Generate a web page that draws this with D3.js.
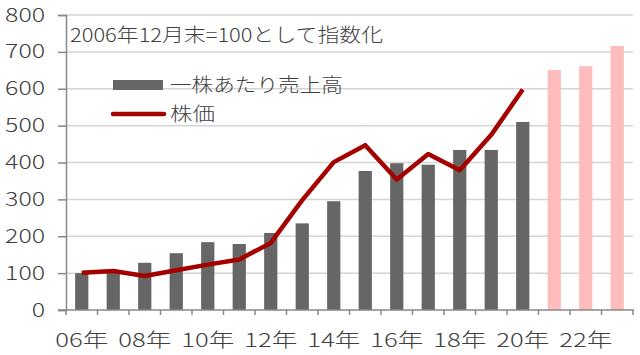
<!DOCTYPE html>
<html><head><meta charset="utf-8">
<script src="https://cdn.jsdelivr.net/npm/d3@7"></script>
<style>body{margin:0;background:#fff}svg{display:block}text{font-family:"Noto Sans CJK JP","Noto Sans",sans-serif;font-weight:300;fill:#404040}</style>
</head><body>
<script>
const categories = ["06年","07年","08年","09年","10年","11年","12年","13年","14年","15年","16年","17年","18年","19年","20年","21年","22年","23年"];
const salesPerShare = [100,104,128,154,184,179,209,235,295,377,398,394,434,434,510,651,661,716];
const stockPrice = [101,106,92,108,123,137,182,298,401,447,354,423,379,475,598];
const forecastFrom = 15;
const yTicks = [0,100,200,300,400,500,600,700,800];
const xLabelEvery = 2;
const noteText = "2006年12月末=100として指数化";
const legendNames = ["一株あたり売上高","株価"];

const W=640,H=355, L=66, R=633, T=15, B=310;
const svg=d3.select("body").append("svg").attr("width",W).attr("height",H);
const x=d3.scaleBand().domain(categories).range([L,R]).paddingInner(0.58).paddingOuter(0.29);
const y=d3.scaleLinear().domain([0,800]).range([B,T]);

// gridlines
svg.append("g").selectAll("line").data(yTicks.filter(d=>d>0)).join("line")
  .attr("x1",L).attr("x2",R).attr("y1",d=>y(d)).attr("y2",d=>y(d))
  .attr("stroke","#d4d4d4").attr("stroke-width",1.5);

// bars
svg.append("g").selectAll("rect").data(salesPerShare).join("rect")
  .attr("x",(d,i)=>x(categories[i])).attr("width",x.bandwidth())
  .attr("y",d=>y(d)).attr("height",d=>B-y(d))
  .attr("fill",(d,i)=>i>=forecastFrom?"#ffbcbc":"#666666");

// y axis
const ya=svg.append("g").attr("transform",`translate(${L},0)`)
  .call(d3.axisLeft(y).tickValues(yTicks).tickSize(8).tickPadding(13));
ya.select(".domain").attr("stroke","#888").attr("stroke-width",1.5);
ya.selectAll(".tick line").attr("stroke","#888").attr("stroke-width",1.5);
ya.selectAll(".tick text").attr("font-size",19).attr("fill","#404040")
  .attr("font-family","'Noto Sans CJK JP',sans-serif").attr("font-weight",300)
  .attr("textLength",d=>String(d).length*13.3).attr("lengthAdjust","spacingAndGlyphs");

// x axis
const step=x.step();
const xa=svg.append("g");
xa.append("line").attr("x1",L-8).attr("x2",R+1).attr("y1",B).attr("y2",B).attr("stroke","#888").attr("stroke-width",1.5);
xa.selectAll("line.tk").data(d3.range(categories.length+1)).join("line").attr("class","tk")
  .attr("x1",i=>L+i*step).attr("x2",i=>L+i*step).attr("y1",B).attr("y2",B+5)
  .attr("stroke","#888").attr("stroke-width",1.5);
xa.selectAll("text").data(categories.filter((c,i)=>i%xLabelEvery===0)).join("text")
  .attr("x",c=>x(c)+x.bandwidth()/2).attr("y",347).attr("text-anchor","middle")
  .attr("font-size",19).attr("textLength",53).attr("lengthAdjust","spacingAndGlyphs").text(c=>c);

// line
const line=d3.line().x((d,i)=>x(categories[i])+x.bandwidth()/2).y(d=>y(d));
svg.append("path").datum(stockPrice).attr("d",line).attr("fill","none")
  .attr("stroke","#a50000").attr("stroke-width",4.5).attr("stroke-linejoin","round");

// note
svg.append("text").attr("x",70).attr("y",42).attr("font-size",19)
  .attr("textLength",313).attr("lengthAdjust","spacingAndGlyphs").text(noteText);

// legend
const lg=svg.append("g");
lg.append("rect").attr("x",113).attr("y",80).attr("width",50).attr("height",10).attr("fill","#666666");
lg.append("text").attr("x",170).attr("y",92).attr("font-size",19).attr("textLength",173).attr("lengthAdjust","spacingAndGlyphs").text(legendNames[0]);
lg.append("line").attr("x1",113).attr("x2",164).attr("y1",114).attr("y2",114).attr("stroke","#a50000").attr("stroke-width",4.5).attr("stroke-linecap","round");
lg.append("text").attr("x",170).attr("y",121).attr("font-size",19).attr("textLength",45).attr("lengthAdjust","spacingAndGlyphs").text(legendNames[1]);
</script>
</body></html>
